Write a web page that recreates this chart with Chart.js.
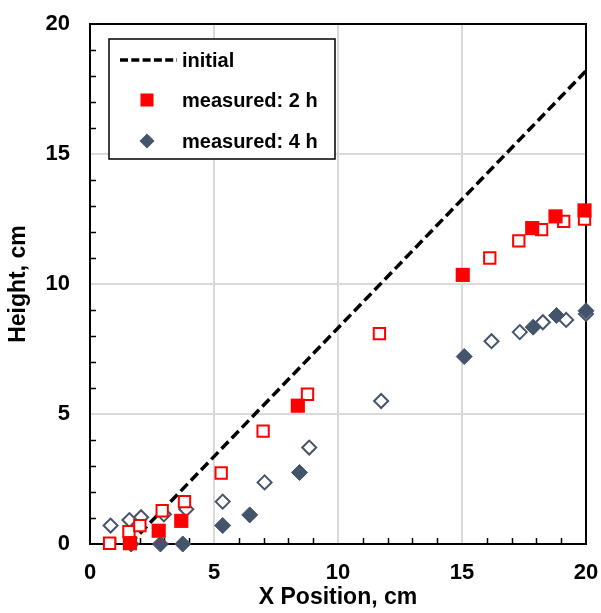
<!DOCTYPE html>
<html>
<head>
<meta charset="utf-8">
<script src="https://cdn.jsdelivr.net/npm/chart.js@4.4.1/dist/chart.umd.min.js"></script>
<style>
  html, body { margin: 0; padding: 0; background: #fff; }
  #wrap { width: 601px; height: 613px; }
</style>
</head>
<body>
<div id="wrap"><canvas id="heightChart" width="601" height="613"></canvas></div>
<script>
// initial profile (straight line)
const initialX = [1.6, 20];
const initialY = [0, 18.2];

// measured after 2 h
const meas2hX = [1.61, 2.77, 3.68, 8.38, 15.03, 17.83, 18.77, 19.94];
const meas2hY = [0.03, 0.51, 0.89, 5.32, 10.35, 12.15, 12.6, 12.83];

// measured after 4 h
const meas4hX = [1.66, 2.84, 3.74, 5.35, 6.44, 8.45, 15.09, 17.87, 18.81, 20.0];
const meas4hY = [0.0, 0.0, 0.0, 0.71, 1.12, 2.75, 7.21, 8.34, 8.79, 8.97];

// calculated after 2 h (open squares)
const calc2hX = [0.79, 1.57, 2.01, 2.91, 3.81, 5.29, 6.98, 8.77, 11.67, 16.12, 17.29, 18.21, 19.1, 19.94];
const calc2hY = [0.03, 0.47, 0.71, 1.28, 1.63, 2.73, 4.34, 5.76, 8.09, 11.0, 11.66, 12.09, 12.41, 12.5];

// calculated after 4 h (open diamonds)
const calc4hX = [0.83, 1.59, 2.06, 2.98, 3.88, 5.35, 7.04, 8.84, 11.74, 16.19, 17.33, 18.26, 19.2, 20.0];
const calc4hY = [0.71, 0.92, 1.03, 1.14, 1.34, 1.63, 2.37, 3.71, 5.5, 7.8, 8.15, 8.53, 8.62, 8.85];

const axisTicks = [0, 5, 10, 15, 20];

const RED = '#ff0000';
const SLATE = '#44546a';
const FONT = "'Liberation Sans', Arial, sans-serif";

const toPoints = (xs, ys) => xs.map((x, i) => ({ x: x, y: ys[i] }));

// frame around the plot plus small inward minor ticks
const framePlugin = {
    id: 'frame',
    beforeDatasetsDraw(chart) {
        const { ctx, chartArea: a, scales } = chart;
        ctx.save();
        ctx.strokeStyle = '#000';
        ctx.lineWidth = 1.5;
        ctx.beginPath();
        for (let v = 1; v < 20; v++) {
            if (v % 5 === 0) continue;
            const px = Math.round(scales.x.getPixelForValue(v)) + 0.5;
            ctx.moveTo(px, a.bottom);
            ctx.lineTo(px, a.bottom - 6);
            const py = Math.round(scales.y.getPixelForValue(v)) + 0.5;
            ctx.moveTo(a.left, py);
            ctx.lineTo(a.left + 6, py);
        }
        ctx.stroke();
        ctx.lineWidth = 2;
        ctx.strokeRect(a.left, a.top, a.right - a.left, a.bottom - a.top);
        ctx.restore();
    }
};

// boxed legend inside the upper-left corner of the plot
const legendPlugin = {
    id: 'boxLegend',
    afterDatasetsDraw(chart) {
        const { ctx } = chart;
        const box = { x: 109, y: 39, w: 226, h: 120 };
        const rows = [21, 61, 102];
        ctx.save();
        ctx.fillStyle = '#fff';
        ctx.fillRect(box.x, box.y, box.w, box.h);
        ctx.strokeStyle = '#000';
        ctx.lineWidth = 1.5;
        ctx.strokeRect(box.x, box.y, box.w, box.h);

        const items = chart.data.datasets.filter(d => d.showInLegend);
        items.forEach((ds, i) => {
            const cy = box.y + rows[i];
            const cx = box.x + 38;
            if (ds.showLine) {
                ctx.strokeStyle = ds.borderColor;
                ctx.lineWidth = 3.5;
                ctx.setLineDash([8, 3.3]);
                ctx.beginPath();
                ctx.moveTo(box.x + 11, cy);
                ctx.lineTo(box.x + 68, cy);
                ctx.stroke();
                ctx.setLineDash([]);
            } else if (ds.pointStyle === 'rect') {
                ctx.fillStyle = ds.backgroundColor;
                ctx.fillRect(cx - 6.5, cy - 6.5, 13, 13);
            } else {
                ctx.fillStyle = ds.backgroundColor;
                ctx.beginPath();
                ctx.moveTo(cx, cy - 7.5);
                ctx.lineTo(cx + 7.5, cy);
                ctx.lineTo(cx, cy + 7.5);
                ctx.lineTo(cx - 7.5, cy);
                ctx.closePath();
                ctx.fill();
            }
            ctx.fillStyle = '#000';
            ctx.font = 'bold 20px ' + FONT;
            ctx.textAlign = 'left';
            ctx.textBaseline = 'middle';
            ctx.fillText(ds.label, box.x + 73, cy + 1);
        });
        ctx.restore();
    }
};

const gridColor = (c) => (c.tick && (c.tick.value === 0 || c.tick.value === 20)) ? 'rgba(0,0,0,0)' : '#d9d9d9';

const ctx = document.getElementById('heightChart').getContext('2d');
new Chart(ctx, {
    type: 'scatter',
    data: {
        datasets: [
            {
                label: 'initial',
                data: toPoints(initialX, initialY),
                showLine: true,
                borderColor: '#000',
                borderWidth: 3.5,
                borderDash: [10, 4.7],
                pointRadius: 0,
                showInLegend: true,
                order: 5,
            },
            {
                label: 'measured: 2 h',
                data: toPoints(meas2hX, meas2hY),
                pointStyle: 'rect',
                pointRadius: 10,
                backgroundColor: RED,
                borderColor: RED,
                borderWidth: 0,
                showInLegend: true,
                order: 1,
            },
            {
                label: 'measured: 4 h',
                data: toPoints(meas4hX, meas4hY),
                pointStyle: 'rectRot',
                pointRadius: 8,
                backgroundColor: SLATE,
                borderColor: SLATE,
                borderWidth: 1,
                showInLegend: true,
                order: 2,
            },
            {
                label: 'calculated: 2 h',
                data: toPoints(calc2hX, calc2hY),
                pointStyle: 'rect',
                pointRadius: 8,
                backgroundColor: '#fff',
                borderColor: RED,
                borderWidth: 2,
                order: 3,
            },
            {
                label: 'calculated: 4 h',
                data: toPoints(calc4hX, calc4hY),
                pointStyle: 'rectRot',
                pointRadius: 7,
                backgroundColor: '#fff',
                borderColor: SLATE,
                borderWidth: 2,
                order: 4,
            },
        ],
    },
    options: {
        responsive: false,
        animation: false,
        clip: false,
        layout: { padding: { top: 24, right: 15, left: 0, bottom: 0 } },
        plugins: {
            legend: { display: false },
            tooltip: { enabled: false },
        },
        elements: { point: { hoverRadius: 0 } },
        scales: {
            x: {
                type: 'linear',
                min: 0,
                max: 20,
                afterBuildTicks: (s) => { s.ticks = axisTicks.map(v => ({ value: v })); },
                afterFit: (s) => { s.height = 69; },
                // invisible tick marks keep the labels away from the axis
                grid: { color: gridColor, lineWidth: 2, drawTicks: true, tickLength: 16, tickColor: 'rgba(0,0,0,0)' },
                border: { display: false },
                ticks: {
                    color: '#000',
                    padding: 0,
                    font: { family: FONT, size: 22, weight: 'bold' },
                },
                title: {
                    display: true,
                    text: 'X Position, cm',
                    color: '#000',
                    padding: { top: 0, bottom: 2 },
                    font: { family: FONT, size: 23, weight: 'bold' },
                },
            },
            y: {
                type: 'linear',
                min: 0,
                max: 20,
                afterBuildTicks: (s) => { s.ticks = axisTicks.map(v => ({ value: v })); },
                afterFit: (s) => { s.width = 90; },
                grid: { color: gridColor, lineWidth: 2, drawTicks: true, tickLength: 20, tickColor: 'rgba(0,0,0,0)' },
                border: { display: false },
                ticks: {
                    color: '#000',
                    padding: 0,
                    font: { family: FONT, size: 22, weight: 'bold' },
                },
                title: {
                    display: true,
                    text: 'Height, cm',
                    color: '#000',
                    padding: { top: 5, bottom: 0 },
                    font: { family: FONT, size: 23, weight: 'bold' },
                },
            },
        },
    },
    plugins: [framePlugin, legendPlugin],
});
</script>
</body>
</html>
